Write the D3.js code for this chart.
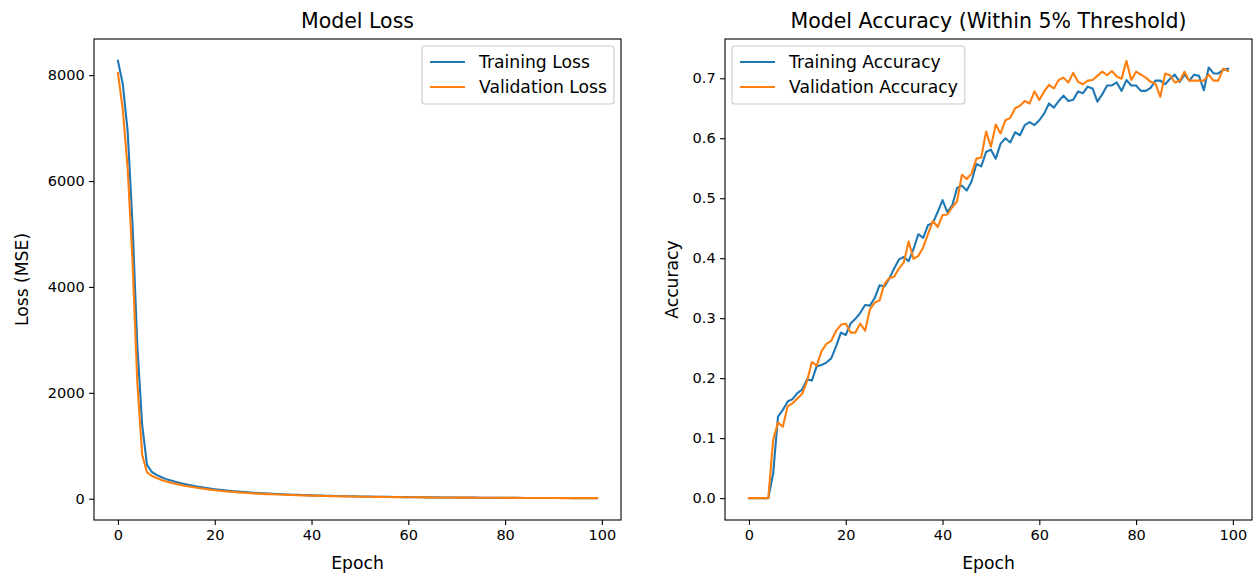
<!DOCTYPE html>
<html>
<head>
<meta charset="utf-8">
<script src="https://cdn.jsdelivr.net/npm/d3@7"></script>
<style>
  body { margin: 0; background: #fff; }
  svg { font-family: "DejaVu Sans", sans-serif; }
</style>
</head>
<body>
<div id="chart"></div>
<script>
// epochs 0..99
const epochs = d3.range(0, 100);

const trainLoss = [8270, 7830, 6950, 5200, 2900, 1400, 640, 505, 450, 405,
  370, 342, 317, 294, 273, 254, 237, 221, 206, 192,
  180, 169, 159, 150, 142, 134, 127, 120, 114, 108,
  102, 97, 92, 88, 84, 80, 76, 73, 70, 67,
  64, 61, 58, 56, 54, 52, 50, 48, 46, 44,
  42, 41, 39, 38, 36, 35, 34, 33, 32, 31,
  30, 29, 28, 27, 26, 25, 25, 24, 23, 23,
  22, 21, 21, 20, 20, 19, 19, 18, 18, 17,
  17, 17, 16, 16, 15, 15, 15, 14, 14, 14,
  13, 13, 13, 13, 12, 12, 12, 12, 11, 11];

const valLoss = [8040, 7350, 6250, 4500, 2200, 830, 500, 430, 390, 355,
  327, 302, 280, 260, 242, 226, 211, 197, 184, 172,
  161, 151, 142, 134, 126, 119, 113, 107, 101, 96,
  91, 87, 83, 79, 75, 72, 69, 66, 63, 60,
  58, 55, 53, 51, 49, 47, 45, 44, 42, 41,
  39, 38, 37, 35, 34, 33, 32, 31, 30, 29,
  28, 27, 27, 26, 25, 24, 24, 23, 22, 22,
  21, 21, 20, 20, 19, 19, 18, 18, 17, 17,
  16, 16, 16, 15, 15, 15, 14, 14, 14, 13,
  13, 13, 12, 12, 12, 12, 11, 11, 11, 11];

const trainAcc = [0, 0, 0, 0, 0, 0.041, 0.136, 0.147, 0.161, 0.165,
  0.175, 0.181, 0.198, 0.196, 0.220, 0.222, 0.226, 0.233, 0.253, 0.276,
  0.272, 0.291, 0.299, 0.309, 0.322, 0.321, 0.334, 0.355, 0.353, 0.366,
  0.383, 0.398, 0.402, 0.395, 0.415, 0.440, 0.434, 0.455, 0.459, 0.477,
  0.497, 0.477, 0.488, 0.517, 0.521, 0.513, 0.528, 0.557, 0.553, 0.577,
  0.581, 0.566, 0.591, 0.600, 0.593, 0.610, 0.605, 0.622, 0.627, 0.622,
  0.630, 0.641, 0.658, 0.651, 0.662, 0.671, 0.662, 0.664, 0.678, 0.675,
  0.686, 0.683, 0.661, 0.673, 0.688, 0.688, 0.693, 0.679, 0.697, 0.688,
  0.688, 0.679, 0.679, 0.684, 0.696, 0.696, 0.690, 0.699, 0.706, 0.694,
  0.706, 0.696, 0.706, 0.704, 0.680, 0.718, 0.708, 0.708, 0.714, 0.716];

const valAcc = [0, 0, 0, 0, 0, 0.097, 0.126, 0.119, 0.153, 0.158,
  0.166, 0.174, 0.195, 0.227, 0.221, 0.245, 0.257, 0.262, 0.279, 0.289,
  0.291, 0.276, 0.276, 0.291, 0.279, 0.315, 0.326, 0.330, 0.357, 0.367,
  0.369, 0.383, 0.393, 0.428, 0.399, 0.404, 0.418, 0.440, 0.462, 0.452,
  0.472, 0.473, 0.485, 0.495, 0.539, 0.532, 0.541, 0.566, 0.568, 0.611,
  0.586, 0.623, 0.608, 0.630, 0.634, 0.650, 0.654, 0.662, 0.658, 0.678,
  0.664, 0.678, 0.689, 0.683, 0.697, 0.701, 0.693, 0.709, 0.694, 0.690,
  0.696, 0.697, 0.704, 0.711, 0.705, 0.712, 0.703, 0.699, 0.729, 0.697,
  0.711, 0.706, 0.701, 0.694, 0.691, 0.669, 0.708, 0.705, 0.693, 0.696,
  0.711, 0.696, 0.696, 0.696, 0.696, 0.706, 0.696, 0.696, 0.716, 0.712];

const xTicks = [0, 20, 40, 60, 80, 100];
const lossTicks = [0, 2000, 4000, 6000, 8000];
const accTicks = [0, 0.1, 0.2, 0.3, 0.4, 0.5, 0.6, 0.7];

const blue = "#1f77b4";
const orange = "#ff7f0e";

const W = 1257, H = 574;
const svg = d3.select("#chart").append("svg")
  .attr("width", W).attr("height", H);

// matplotlib-like padded domain
function padded(arr) {
  const lo = d3.min(arr), hi = d3.max(arr);
  const m = (hi - lo) * 0.05;
  return [lo - m, hi + m];
}

function drawPanel(opt) {
  const { left, top, width, height } = opt;
  const g = svg.append("g").attr("transform", `translate(${left},${top})`);

  const x = d3.scaleLinear().domain(padded(epochs)).range([0, width]);
  const y = d3.scaleLinear().domain(padded(opt.series[0].values.concat(opt.series[1].values))).range([height, 0]);

  const line = d3.line()
    .x((d, i) => x(epochs[i]))
    .y(d => y(d));

  g.append("clipPath").attr("id", opt.id + "-clip")
    .append("rect").attr("width", width).attr("height", height);

  opt.series.forEach(s => {
    g.append("path")
      .datum(s.values)
      .attr("fill", "none")
      .attr("stroke", s.color)
      .attr("stroke-width", 2.1)
      .attr("stroke-linejoin", "round")
      .attr("stroke-linecap", "square")
      .attr("clip-path", `url(#${opt.id}-clip)`)
      .attr("d", line);
  });

  // axes
  const xAxis = g.append("g")
    .attr("transform", `translate(0,${height})`)
    .call(d3.axisBottom(x).tickValues(xTicks).tickSize(4.9).tickPadding(4.5).tickFormat(d3.format("d")));
  const yAxis = g.append("g")
    .call(d3.axisLeft(y).tickValues(opt.yTicks).tickSize(4.9).tickPadding(4.5).tickFormat(opt.yFormat));

  [xAxis, yAxis].forEach(a => {
    a.select(".domain").remove();
    a.selectAll("line").attr("stroke", "#000").attr("stroke-width", 1.1);
    a.selectAll("text").attr("font-size", "14.5px").attr("fill", "#000")
      .attr("font-family", "DejaVu Sans, sans-serif");
  });

  // frame
  g.append("rect")
    .attr("width", width).attr("height", height)
    .attr("fill", "none").attr("stroke", "#000").attr("stroke-width", 1.1);

  // title
  g.append("text")
    .attr("x", width / 2).attr("y", -11)
    .attr("text-anchor", "middle")
    .attr("font-size", "20.5px")
    .text(opt.title);

  // x label
  g.append("text")
    .attr("x", width / 2).attr("y", height + 49)
    .attr("text-anchor", "middle")
    .attr("font-size", "17.2px")
    .text("Epoch");

  // y label
  g.append("text")
    .attr("transform", `translate(${opt.yLabelX},${height / 2}) rotate(-90)`)
    .attr("text-anchor", "middle")
    .attr("font-size", "17.2px")
    .text(opt.yLabel);

  // legend
  const leg = g.append("g");
  const texts = opt.series.map(s => leg.append("text")
    .attr("dy", "0.35em")
    .attr("font-size", "17.2px")
    .text(s.name));
  const tw = d3.max(texts, t => t.node().getComputedTextLength());
  const boxW = 57 + tw + 7;
  const boxH = 58;
  const bx = opt.legendRight ? width - 7 - boxW : 7;
  const by = 7;
  leg.insert("rect", "text")
    .attr("x", bx).attr("y", by)
    .attr("width", boxW).attr("height", boxH)
    .attr("rx", 3).attr("ry", 3)
    .attr("fill", "#fff").attr("fill-opacity", 0.8)
    .attr("stroke", "#cccccc").attr("stroke-width", 1.1);
  opt.series.forEach((s, i) => {
    leg.append("line")
      .attr("x1", bx + 8).attr("x2", bx + 43)
      .attr("y1", by + 16 + i * 25).attr("y2", by + 16 + i * 25)
      .attr("stroke", s.color).attr("stroke-width", 2.1);
  });
  texts.forEach((t, i) => t.attr("x", bx + 57).attr("y", by + 16 + i * 25));
}

drawPanel({
  id: "loss", left: 94, top: 39, width: 527, height: 481,
  title: "Model Loss", yLabel: "Loss (MSE)", yLabelX: -66,
  yTicks: lossTicks, yFormat: d3.format("d"), legendRight: true,
  series: [
    { name: "Training Loss", values: trainLoss, color: blue },
    { name: "Validation Loss", values: valLoss, color: orange }
  ]
});

drawPanel({
  id: "acc", left: 725, top: 39, width: 527, height: 481,
  title: "Model Accuracy (Within 5% Threshold)", yLabel: "Accuracy", yLabelX: -47,
  yTicks: accTicks, yFormat: d3.format(".1f"), legendRight: false,
  series: [
    { name: "Training Accuracy", values: trainAcc, color: blue },
    { name: "Validation Accuracy", values: valAcc, color: orange }
  ]
});
</script>
</body>
</html>
